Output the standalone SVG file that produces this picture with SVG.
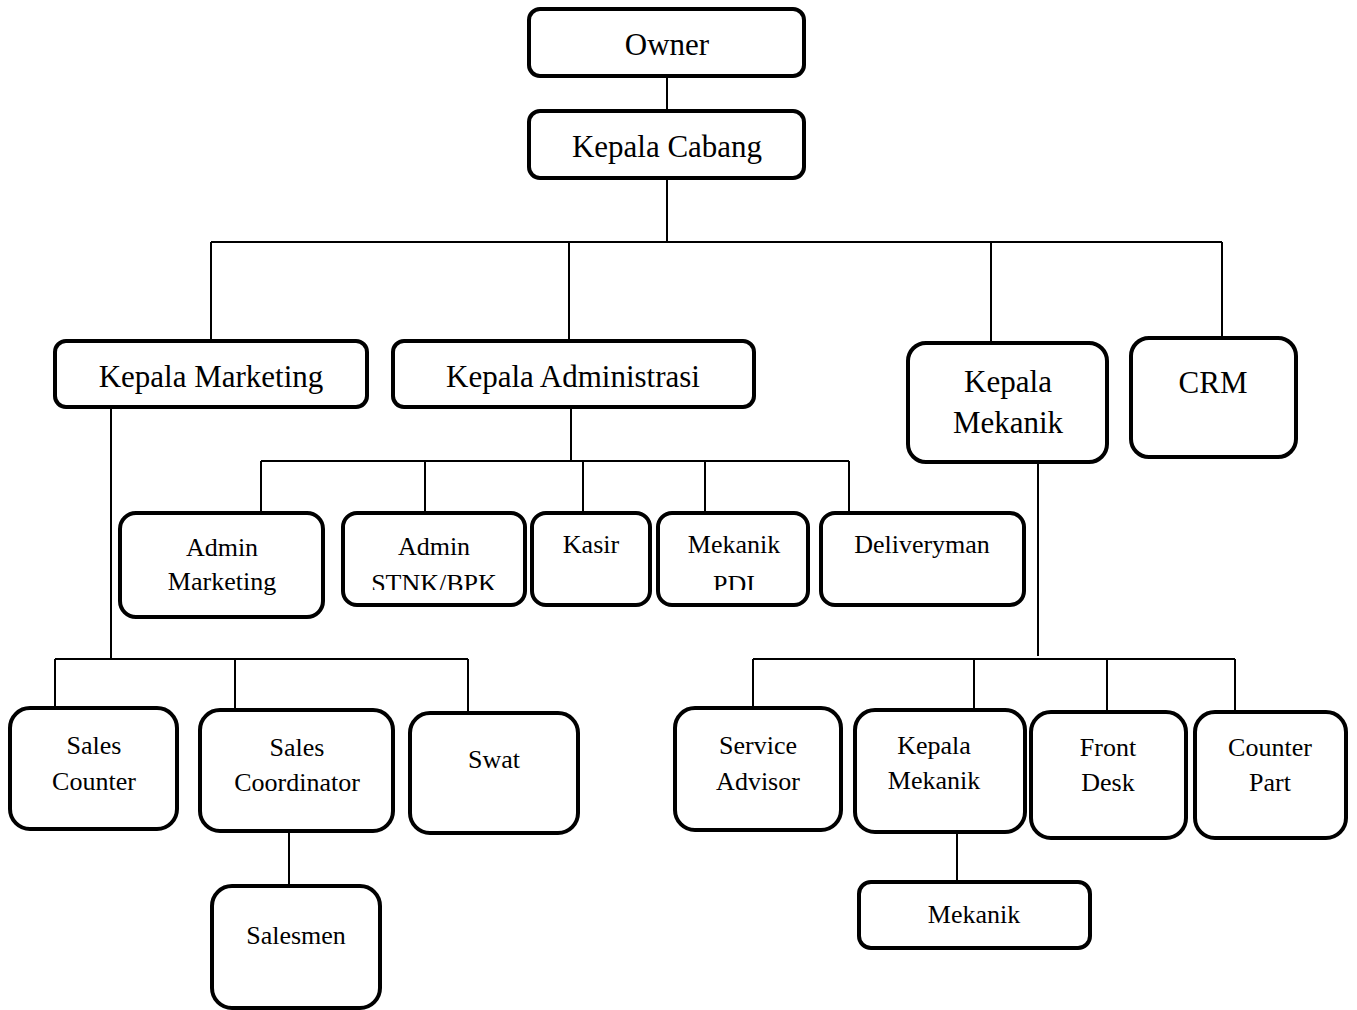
<svg xmlns="http://www.w3.org/2000/svg" width="1357" height="1010" viewBox="0 0 1357 1010">
<style>
.b{fill:#fff;stroke:#000;stroke-width:4}
.t{font-family:"Liberation Serif","Times New Roman",serif;font-size:31px;text-anchor:middle;fill:#000}
.s{font-family:"Liberation Serif","Times New Roman",serif;font-size:26px;text-anchor:middle;fill:#000}
.c{fill:none;stroke:#000;stroke-width:2}
</style>
<defs>
<clipPath id="clipStnk"><rect x="343" y="513" width="182" height="77"/></clipPath>
<clipPath id="clipPdi"><rect x="658" y="513" width="150" height="77"/></clipPath>
</defs>
<rect width="1357" height="1010" fill="#fff"/>
<g id="connectors">
<path class="c" d="M667 76V111M667 178V242M211 242H1222M211 242V341M569 242V341M991 242V343M1222 242V338"/>
<path class="c" d="M571 407V461M261 461H849M261 461V513M425 461V513M583 461V513M705 461V513M849 461V513"/>
<path class="c" d="M111 407V659M55 659H468M55 659V708M235 659V710M468 659V713M289 831V886"/>
<path class="c" d="M1038 456V656M753 659H1235M753 659V708M974 659V710M1107 659V712M1235 659V712M957 832V882"/>
</g>
<g id="owner"><rect class="b" x="529" y="9" width="275" height="67" rx="11"/><text class="t" x="667" y="55">Owner</text></g>
<g id="kepala-cabang"><rect class="b" x="529" y="111" width="275" height="67" rx="11"/><text class="t" x="667" y="157">Kepala Cabang</text></g>
<g id="kepala-marketing"><rect class="b" x="55" y="341" width="312" height="66" rx="11"/><text class="t" x="211" y="387">Kepala Marketing</text></g>
<g id="kepala-administrasi"><rect class="b" x="393" y="341" width="361" height="66" rx="11"/><text class="t" x="573" y="387">Kepala Administrasi</text></g>
<g id="kepala-mekanik-top"><rect class="b" x="908" y="343" width="199" height="119" rx="18"/><text class="t" x="1008" y="392">Kepala</text><text class="t" x="1008" y="433">Mekanik</text></g>
<g id="crm"><rect class="b" x="1131" y="338" width="165" height="119" rx="18"/><text class="t" x="1213" y="393">CRM</text></g>
<g id="admin-marketing"><rect class="b" x="120" y="513" width="203" height="104" rx="16"/><text class="s" x="222" y="556">Admin</text><text class="s" x="222" y="590">Marketing</text></g>
<g id="admin-stnk"><rect class="b" x="343" y="513" width="182" height="92" rx="14"/><text class="s" x="434" y="555">Admin</text><text class="s" x="434" y="592" clip-path="url(#clipStnk)">STNK/BPK</text></g>
<g id="kasir"><rect class="b" x="532" y="513" width="118" height="92" rx="14"/><text class="s" x="591" y="553">Kasir</text></g>
<g id="mekanik-pdi"><rect class="b" x="658" y="513" width="150" height="92" rx="14"/><text class="s" x="734" y="553">Mekanik</text><text class="s" x="734" y="593" clip-path="url(#clipPdi)">PDI</text></g>
<g id="deliveryman"><rect class="b" x="821" y="513" width="203" height="92" rx="14"/><text class="s" x="922" y="553">Deliveryman</text></g>
<g id="sales-counter"><rect class="b" x="10" y="708" width="167" height="121" rx="20"/><text class="s" x="94" y="754">Sales</text><text class="s" x="94" y="790">Counter</text></g>
<g id="sales-coordinator"><rect class="b" x="200" y="710" width="193" height="121" rx="20"/><text class="s" x="297" y="756">Sales</text><text class="s" x="297" y="791">Coordinator</text></g>
<g id="swat"><rect class="b" x="410" y="713" width="168" height="120" rx="20"/><text class="s" x="494" y="768">Swat</text></g>
<g id="salesmen"><rect class="b" x="212" y="886" width="168" height="122" rx="20"/><text class="s" x="296" y="944">Salesmen</text></g>
<g id="service-advisor"><rect class="b" x="675" y="708" width="166" height="122" rx="20"/><text class="s" x="758" y="754">Service</text><text class="s" x="758" y="790">Advisor</text></g>
<g id="kepala-mekanik-bottom"><rect class="b" x="855" y="710" width="170" height="122" rx="20"/><text class="s" x="934" y="754">Kepala</text><text class="s" x="934" y="789">Mekanik</text></g>
<g id="front-desk"><rect class="b" x="1031" y="712" width="155" height="126" rx="20"/><text class="s" x="1108" y="756">Front</text><text class="s" x="1108" y="791">Desk</text></g>
<g id="counter-part"><rect class="b" x="1195" y="712" width="151" height="126" rx="20"/><text class="s" x="1270" y="756">Counter</text><text class="s" x="1270" y="791">Part</text></g>
<g id="mekanik"><rect class="b" x="859" y="882" width="231" height="66" rx="12"/><text class="s" x="974" y="923">Mekanik</text></g>
</svg>
